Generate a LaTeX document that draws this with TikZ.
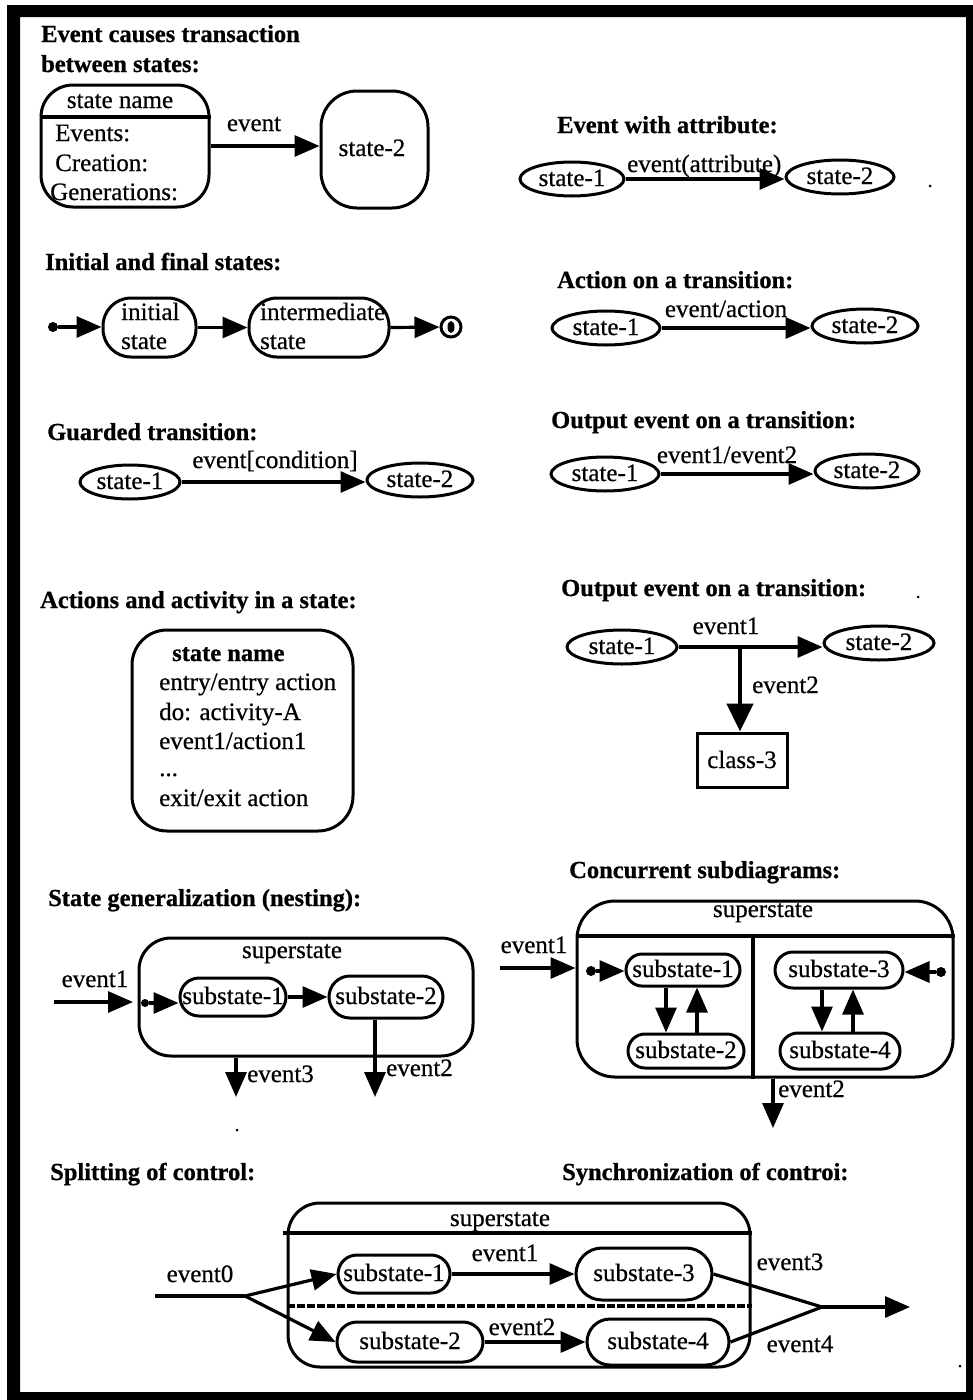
\documentclass[tikz,border=0pt]{standalone}
\usepackage{fontspec}
\setmainfont{Liberation Serif}[UprightFeatures={FakeBold=0.6},BoldFeatures={FakeBold=0.8}]
\usetikzlibrary{arrows.meta,shapes.geometric,calc}
\newcommand{\zb}[1]{\makebox[0pt]{#1}}
\begin{document}
\begin{tikzpicture}[x=1pt,y=-1pt,
  >={Triangle[length=25pt,width=21pt]},
  ttl/.style={anchor=base west, font=\fontsize{24.5}{29}\selectfont\bfseries, inner sep=0},
  txt/.style={anchor=base west, font=\fontsize{25}{29}\selectfont, inner sep=0},
  ctxt/.style={anchor=base, font=\fontsize{25}{29}\selectfont, inner sep=0},
  ov/.style={draw, ellipse, line width=3pt, inner sep=0, font=\fontsize{25}{29}\selectfont, text height=16pt, text depth=2pt},
  rbox/.style={draw, rectangle, line width=3pt, inner sep=0},
  sub/.style={draw, rectangle, line width=3pt, inner sep=0, font=\fontsize{25}{29}\selectfont, text height=16pt, text depth=2pt},
  conn/.style={line width=3.2pt},
  dotn/.style={circle, fill, inner sep=0, minimum size=10pt},
  speck/.style={circle, fill, inner sep=0, minimum size=3pt},
]
\useasboundingbox (0,0) rectangle (973,1400);
\fill[white] (0,0) rectangle (973,1400);
\fill[black, even odd rule] (7,5) rectangle (973,1400) (20,17) rectangle (966,1392);

% ---------- Section 1
\node[ttl] (t1a) at (41,42) {Event causes transaction};
\node[ttl] (t1b) at (41,72) {between states:};
\node[rbox, minimum width=168pt, minimum height=122pt, rounded corners=32pt] (bA) at (125,146) {};
\coordinate (dA) at (0,117);
\draw[conn] (bA.west |- dA) -- (bA.east |- dA);
\node[ctxt] (sn1) at (120,108) {state name};
\node[txt] (ev1) at (55,141) {Events:};
\node[txt] (cr1) at (55,171) {Creation:};
\node[txt] (ge1) at (50,200) {Generations:};
\node[rbox, minimum width=107pt, minimum height=117pt, rounded corners=36pt] (bB) at (374.5,149.5) {};
\node[ctxt] (sB) at (372,156) {state-2};
\draw[conn,->] (bA.east) -- (bA.east -| bB.west);
\node[ctxt] (le1) at (254,131) {event};

% ---------- Section 2
\node[ttl] (t2) at (557,133) {Event with attribute:};
\node[ov, minimum width=104pt, minimum height=34pt] (a1) at (572,179) {\zb{state-1}};
\node[ov, minimum width=108pt, minimum height=34pt] (a2) at (840,177) {\zb{state-2}};
\draw[conn,->] (a1.east) -- (a1.east -| a2.west);
\node[txt] (la) at (627,172) {event(attribute)};
\node[speck] (d1) at (930,186) {};

% ---------- Section 3
\node[ttl] (t3) at (45,270) {Initial and final states:};
\node[dotn] (i3) at (53,327) {};
\node[rbox, minimum width=93pt, minimum height=59pt, rounded corners=28pt] (s3a) at (149.5,327.5) {};
\node[txt] (s3a1) at (121,320) {initial};
\node[txt] (s3a2) at (121,349) {state};
\node[rbox, minimum width=140pt, minimum height=59pt, rounded corners=28pt] (s3b) at (319,327.5) {};
\node[txt] (s3b1) at (260,320) {intermediate};
\node[txt] (s3b2) at (260,349) {state};
\node[circle, draw, line width=3pt, minimum size=20pt, inner sep=0] (f3) at (451,327) {};
\node[ellipse, fill, minimum width=7pt, minimum height=12pt, inner sep=0] (f3i) at (f3.center) {};
\draw[conn,->] (i3) -- (i3 -| s3a.west);
\draw[conn,->] (s3a.east) -- (s3a.east -| s3b.west);
\draw[conn,->] (s3b.east) -- (f3);

% ---------- Section 4
\node[ttl] (t4) at (47,440) {Guarded transition:};
\node[ov, minimum width=100pt, minimum height=34pt] (g1) at (130,482) {\zb{state-1}};
\node[ov, minimum width=106pt, minimum height=34pt] (g2) at (420,480) {\zb{state-2}};
\draw[conn,->] (g1.east) -- (g1.east -| g2.west);
\node[ctxt] (lg) at (275,468) {event[condition]};

% ---------- Section 5
\node[ttl] (t5) at (557,288) {Action on a transition:};
\node[ov, minimum width=108pt, minimum height=34pt] (c1) at (606,328) {\zb{state-1}};
\node[ov, minimum width=106pt, minimum height=34pt] (c2) at (865,326) {\zb{state-2}};
\draw[conn,->] (c1.east) -- (c1.east -| c2.west);
\node[ctxt] (lc) at (726,317) {event/action};

% ---------- Section 6
\node[ttl] (t6) at (551,428) {Output event on a transition:};
\node[ov, minimum width=108pt, minimum height=34pt] (o1) at (605,474) {\zb{state-1}};
\node[ov, minimum width=104pt, minimum height=34pt] (o2) at (867,471) {\zb{state-2}};
\draw[conn,->] (o1.east) -- (o1.east -| o2.west);
\node[ctxt] (lo) at (727,463) {event1/event2};

% ---------- Section 7
\node[ttl] (t7) at (40,608) {Actions and activity in a state:};
\node[rbox, minimum width=221pt, minimum height=201pt, rounded corners=35pt] (b7) at (242.5,730.5) {};
\node[ttl] (b7a) at (172,661) {state name};
\node[txt] (b7b) at (159,690) {entry/entry action};
\node[txt] (b7c) at (159,720) {do: activity-A};
\node[txt] (b7d) at (159,749) {event1/action1};
\node[txt] (b7e) at (159,776) {...};
\node[txt] (b7f) at (159,806) {exit/exit action};

% ---------- Section 8
\node[ttl] (t8) at (561,596) {Output event on a transition:};
\node[ov, minimum width=110pt, minimum height=34pt] (p1) at (622,647) {\zb{state-1}};
\node[ov, minimum width=110pt, minimum height=34pt] (p2) at (879,643) {\zb{state-2}};
\draw[conn,->] (p1.east) -- (p1.east -| p2.west);
\coordinate (br) at (740,647);
\node[rbox, minimum width=90pt, minimum height=54pt] (k3) at (742,760) {};
\node[ctxt] (k3t) at (742,768) {class-3};
\draw[line width=4.5pt, -{Triangle[length=28pt,width=26pt]}] (br) -- (br |- k3.north);
\node[ctxt] (lp1) at (726,634) {event1};
\node[txt] (lp2) at (752,693) {event2};
\node[speck] (d2) at (918,597) {};

% ---------- Section 9
\node[ttl] (t9) at (48,906) {State generalization (nesting):};
\node[rbox, minimum width=334pt, minimum height=118pt, rounded corners=32pt] (sb9) at (306,997) {};
\node[ctxt] (sp9) at (292,958) {superstate};
\coordinate (e9s) at (54,1002);
\coordinate (e9e) at (133,1002);
\draw[conn,->] (e9s) -- (e9e);
\node[ctxt] (le9) at (95,987) {event1};
\node[dotn, minimum size=8pt] (i9) at (145,1003) {};
\node[sub, minimum width=106pt, minimum height=38pt, rounded corners=19pt] (n1) at (233,997) {\zb{substate-1}};
\node[sub, minimum width=114pt, minimum height=42pt, rounded corners=21pt] (n2) at (386,997) {\zb{substate-2}};
\draw[conn,->] (i9) -- (i9 -| n1.west);
\draw[conn,->] (n1.east) -- (n1.east -| n2.west);
\coordinate (x9a) at (236,1097);
\coordinate (x9b) at (375,1097);
\draw[conn,->] (x9a |- sb9.south) -- (x9a);
\draw[conn,->] (x9b |- n2.south) -- (x9b);
\node[txt] (le93) at (247,1082) {event3};
\node[txt] (le92) at (386,1076) {event2};
\node[speck] (d3) at (237,1130) {};

% ---------- Section 10
\node[ttl] (t10) at (569,878) {Concurrent subdiagrams:};
\node[rbox, minimum width=376pt, minimum height=176pt, rounded corners=38pt] (sb10) at (765,989) {};
\coordinate (dB) at (0,936);
\draw[conn] (sb10.west |- dB) -- (sb10.east |- dB);
\coordinate (vB) at (753,0);
\draw[conn] (vB |- dB) -- (vB |- sb10.south);
\node[ctxt] (sp10) at (763,917) {superstate};
\coordinate (e10s) at (500,968);
\draw[conn,->] (e10s) -- (e10s -| sb10.west);
\node[ctxt] (le10) at (534,953) {event1};
\node[dotn] (i10a) at (591,971) {};
\node[sub, minimum width=114pt, minimum height=32pt, rounded corners=16pt] (q1) at (683,970) {\zb{substate-1}};
\node[sub, minimum width=116pt, minimum height=34pt, rounded corners=17pt] (q2) at (686,1051) {\zb{substate-2}};
\node[sub, minimum width=128pt, minimum height=36pt, rounded corners=18pt] (q3) at (839,970) {\zb{substate-3}};
\node[sub, minimum width=120pt, minimum height=36pt, rounded corners=18pt] (q4) at (840,1051) {\zb{substate-4}};
\node[dotn] (i10b) at (941,972) {};
\draw[conn,->] (i10a) -- (i10a -| q1.west);
\draw[conn,->] (i10b) -- (i10b -| q3.east);
\draw[conn,->] ([xshift=-17pt]q1.south) -- ([xshift=-17pt]q1.south |- q2.north);
\draw[conn,->] ([xshift=11pt]q2.north) -- ([xshift=11pt]q2.north |- q1.south);
\draw[conn,->] ([xshift=-17pt]q3.south) -- ([xshift=-17pt]q3.south |- q4.north);
\draw[conn,->] ([xshift=13pt]q4.north) -- ([xshift=13pt]q4.north |- q3.south);
\coordinate (x10) at (773,1128);
\draw[conn,->] (x10 |- sb10.south) -- (x10);
\node[txt] (le102) at (778,1097) {event2};

% ---------- Section 11
\node[ttl] (t11a) at (50,1180) {Splitting of control:};
\node[ttl] (t11b) at (562,1180) {Synchronization of controi:};
\node[rbox, minimum width=462pt, minimum height=164pt, rounded corners=32pt] (sb11) at (519,1285) {};
\node[ctxt] (sp11) at (500,1226) {superstate};
\coordinate (dC) at (0,1233);
\coordinate (dD) at (0,1306);
\draw[conn] ([xshift=-4pt]sb11.west |- dC) -- (sb11.east |- dC);
\draw[conn, dash pattern=on 8pt off 2pt] (sb11.west |- dD) -- (sb11.east |- dD);
\coordinate (e11s) at (155,1296);
\coordinate (fork) at (245,1296);
\draw[conn] (e11s) -- (fork);
\node[ctxt] (le110) at (200,1282) {event0};
\node[sub, minimum width=112pt, minimum height=38pt, rounded corners=19pt] (r1) at (394,1274) {\zb{substate-1}};
\node[sub, minimum width=136pt, minimum height=52pt, rounded corners=26pt] (r3) at (644,1274) {\zb{substate-3}};
\node[sub, minimum width=146pt, minimum height=40pt, rounded corners=20pt] (r2) at (410,1342) {\zb{substate-2}};
\node[sub, minimum width=142pt, minimum height=46pt, rounded corners=23pt] (r4) at (658,1342) {\zb{substate-4}};
\draw[conn,->] (fork) -- (r1.west);
\draw[conn,->] (fork) -- (r2.west);
\draw[conn,->] (r1.east) -- (r1.east -| r3.west);
\draw[conn,->] (r2.east) -- (r2.east -| r4.west);
\node[ctxt] (le111) at (505,1261) {event1};
\node[ctxt] (le112) at (522,1335) {event2};
\coordinate (join) at (822,1307);
\coordinate (e11e) at (910,1307);
\draw[conn] (r3.east) -- (join);
\draw[conn] (r4.east) -- (join);
\draw[conn,->] (join) -- (e11e);
\node[ctxt] (le113) at (790,1270) {event3};
\node[ctxt] (le114) at (800,1352) {event4};
\node[speck] (d4) at (960,1366) {};
\end{tikzpicture}
\end{document}
